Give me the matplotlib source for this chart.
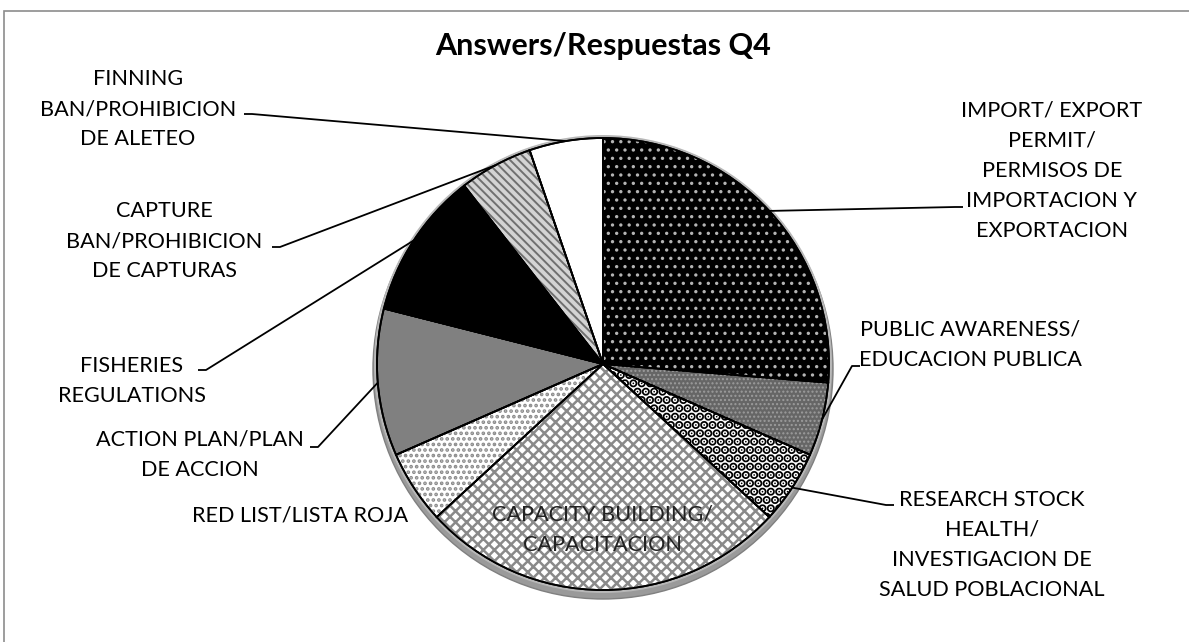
import matplotlib
matplotlib.use('Agg')
import matplotlib.pyplot as plt
from matplotlib.patches import Circle, Rectangle
import numpy as np

# datos del grafico (conteos de respuestas)
categorias = ['IMPORT/ EXPORT\nPERMIT/\nPERMISOS DE\nIMPORTACION Y\nEXPORTACION',
              'PUBLIC AWARENESS/\nEDUCACION PUBLICA',
              'RESEARCH STOCK\nHEALTH/\nINVESTIGACION DE\nSALUD POBLACIONAL',
              'CAPACITY BUILDING/\nCAPACITACION',
              'RED LIST/LISTA ROJA',
              'ACTION PLAN/PLAN\nDE ACCION',
              'FISHERIES\nREGULATIONS',
              'CAPTURE\nBAN/PROHIBICION\nDE CAPTURAS',
              'FINNING\nBAN/PROHIBICION\nDE ALETEO']
valores = [5, 1, 1, 5, 1, 2, 2, 1, 1]
titulo = 'Answers/Respuestas Q4'

# estilos de cada porcion: relleno, trama, color de trama
rellenos = ['black', '#666666', 'white', 'white', 'white', '#808080', 'black', '#d4d4d4', 'white']
tramas = ['..', '....', '..', 'xxx', '...', None, None, '\\\\\\\\', None]
color_trama = ['#b4b4b4', '#9c9c9c', 'black', '#8a8a8a', '#8a8a8a', None, None, '#707070', None]
ancho_trama = [1.2, 1.0, 4.5, 1.8, 1.8, 1.0, 1.0, 1.4, 1.0]

# posicion de las etiquetas (pixeles, y hacia abajo) y codo de la linea guia
pos_texto = [(1052, 171), (970, 345), (992, 545), None, (408, 515),
             (200, 455), (132, 381), (164, 241), (138, 109)]
alinear = ['center', 'center', 'center', 'center', 'right',
           'center', 'center', 'center', 'center']
codo = [(955, 207), (852, 366), (886, 505), None, None,
        (318, 447), (206, 370), (280, 247), (252, 114)]

W, H = 1189, 642
fig = plt.figure(figsize=(W / 100, H / 100), dpi=100)
ax = fig.add_axes([0, 0, 1, 1])

plt.rcParams['font.family'] = ['Lato', 'DejaVu Sans']

def yy(y):
    return H - y

cx, cy, R = 603, yy(364), 226

# borde del area del grafico
ax.add_patch(Rectangle((4, -20), W + 20, yy(11) + 20, fill=False, edgecolor='#8c8c8c', lw=1.2))

# canto gris (efecto 3D)
ax.add_patch(Circle((cx, cy - 5), R + 4, facecolor='#9a9a9a', edgecolor='#808080', lw=1, zorder=1))
ax.add_patch(Circle((cx, cy), R + 3, facecolor='#b8b8b8', edgecolor='none', zorder=1))

wedges, _ = ax.pie(valores, colors=rellenos, startangle=90, counterclock=False,
                   center=(cx, cy), radius=R, frame=True,
                   wedgeprops=dict(edgecolor='black', linewidth=1.3))
for w in wedges:
    w.set_zorder(2)

# tramas encima
capa, _ = ax.pie(valores, colors=['none'] * len(valores), startangle=90, counterclock=False,
                 center=(cx, cy), radius=R, frame=True, wedgeprops=dict(linewidth=0))
for w, t, c, lw in zip(capa, tramas, color_trama, ancho_trama):
    w.set_zorder(3)
    if t is None:
        w.set_visible(False)
        continue
    w.set_hatch(t)
    w.set_edgecolor(c)
    try:
        w.set_hatch_linewidth(lw)
    except AttributeError:
        pass

# bordes negros encima de las tramas
bordes, _ = ax.pie(valores, colors=['none'] * len(valores), startangle=90, counterclock=False,
                   center=(cx, cy), radius=R, frame=True,
                   wedgeprops=dict(edgecolor='black', linewidth=1.3, fill=False))
for w in bordes:
    w.set_zorder(4)

ax.set_xlim(0, W)
ax.set_ylim(0, H)
ax.set_aspect('equal')
ax.axis('off')

fs = 15.6
ls = 1.64
for i, (w, txt) in enumerate(zip(wedges, categorias)):
    ang = np.deg2rad((w.theta1 + w.theta2) / 2)
    if pos_texto[i] is None:
        # etiqueta dentro de la porcion
        tx = cx + 0.735 * R * np.cos(ang)
        ty = cy + 0.735 * R * np.sin(ang)
        ax.text(tx, ty, txt, ha='center', va='center', fontsize=fs, color='#222222',
                linespacing=ls, zorder=6)
        continue
    px, py = pos_texto[i]
    ax.text(px, yy(py), txt, ha=alinear[i], va='center', fontsize=fs, color='black',
            linespacing=ls, multialignment='center', zorder=6)
    if codo[i] is not None:
        ex, ey = codo[i]
        ax_, ay_ = cx + R * np.cos(ang), cy + R * np.sin(ang)
        lado = 1 if ex > cx else -1
        ax.plot([ex + lado * 8, ex, ax_], [yy(ey), yy(ey), ay_], color='black', lw=1.3,
                zorder=5, solid_capstyle='butt')

ax.text(603, yy(46), titulo, ha='center', va='center', fontsize=22, fontweight='bold')

fig.savefig('out.png', dpi=100)
